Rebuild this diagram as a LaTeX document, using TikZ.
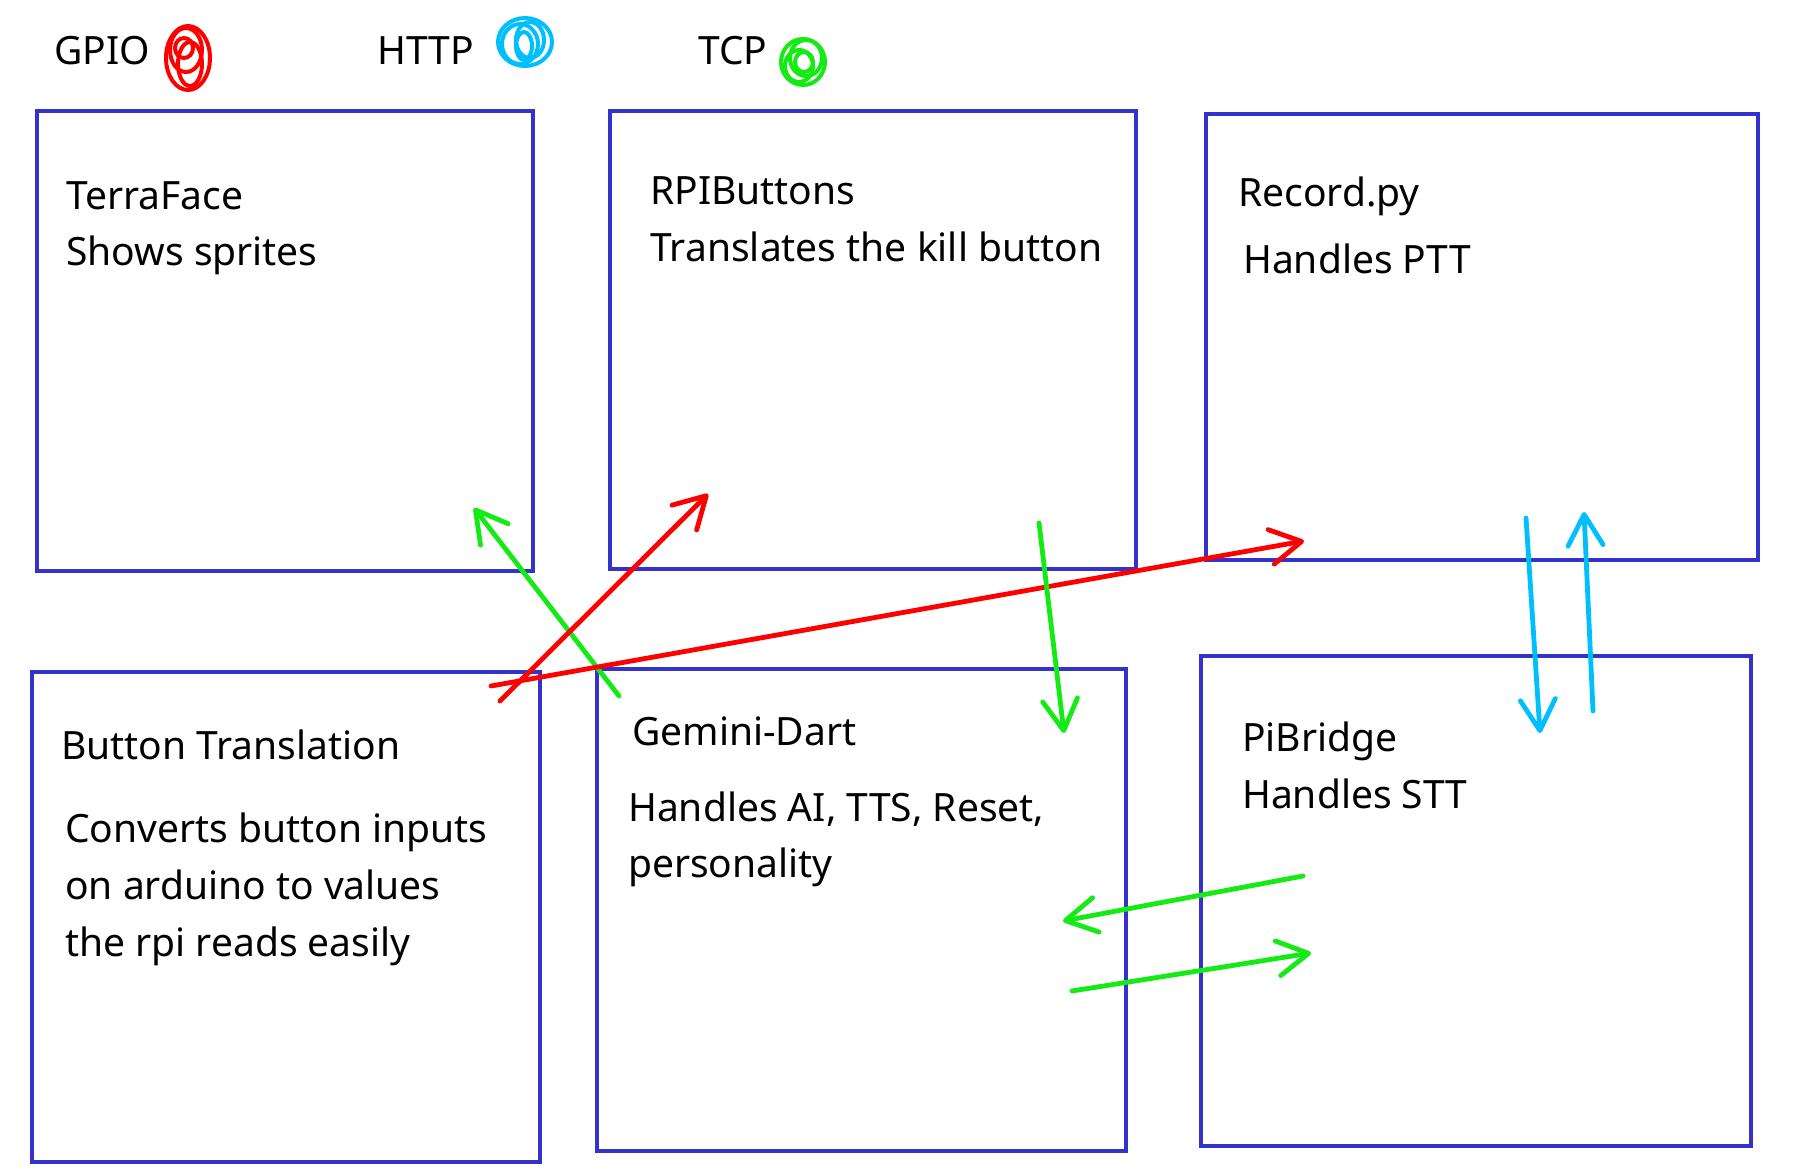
\documentclass[tikz,border=0pt]{standalone}
\usepackage{fontspec}
\setmainfont{Noto Sans}
\usetikzlibrary{arrows.meta}
\definecolor{boxblue}{RGB}{51,51,204}
\definecolor{gpiored}{RGB}{255,0,0}
\definecolor{tcpgreen}{RGB}{20,235,20}
\definecolor{httpblue}{RGB}{0,191,255}
\begin{document}
\begin{tikzpicture}[x=1pt,y=-1pt,
  box/.style={draw=boxblue,line width=4.5pt,inner sep=0pt,outer sep=0pt},
  txt/.style={anchor=base west,inner sep=0pt,font=\fontsize{39}{57}\selectfont},
  conn/.style={line width=4.8pt,line cap=round,line join=round,
    -{Straight Barb[length=31pt,width=35pt,round]}},
  gpio/.style={conn,draw=gpiored},
  tcp/.style={conn,draw=tcpgreen},
  http/.style={conn,draw=httpblue},
  scrib/.style={line width=4pt}]
\useasboundingbox (0,0) rectangle (1798,1173);
\fill[white] (0,0) rectangle (1798,1173);
% legend
\node[txt] (lgpio) at (54,64) {GPIO};
\node[txt] (lhttp) at (377,64) {HTTP};
\node[txt] (ltcp) at (698,64) {TCP};
\begin{scope}[draw=gpiored,scrib]
  \draw (188,58) ellipse [x radius=22,y radius=32];
  \draw (186,50) ellipse [x radius=16,y radius=22];
  \draw (190,64) ellipse [x radius=12,y radius=22];
  \draw (184,48) ellipse [x radius=9,y radius=10];
\end{scope}
\begin{scope}[draw=httpblue,scrib]
  \draw (525,42) ellipse [x radius=27,y radius=24];
  \draw (520,44) ellipse [x radius=18,y radius=20];
  \draw (530,40) ellipse [x radius=14,y radius=18];
  \draw (524,46) ellipse [x radius=8,y radius=14];
\end{scope}
\begin{scope}[draw=tcpgreen,scrib]
  \draw (803,62) ellipse [x radius=22,y radius=23];
  \draw (806,58) ellipse [x radius=16,y radius=18];
  \draw (799,66) ellipse [x radius=14,y radius=16];
  \draw (804,62) ellipse [x radius=9,y radius=10];
\end{scope}
% boxes
\node[box,minimum width=496pt,minimum height=460pt] (tf) at (285,341) {};
\node[box,minimum width=526pt,minimum height=458pt] (rb) at (873,340) {};
\node[box,minimum width=552pt,minimum height=446pt] (rc) at (1482,337) {};
\node[box,minimum width=508pt,minimum height=490pt] (bt) at (286,917) {};
\node[box,minimum width=529pt,minimum height=482pt] (gd) at (861.5,910) {};
\node[box,minimum width=550pt,minimum height=490pt] (pb) at (1476,901) {};
% texts
\node[txt] (tf1) at (66,209) {TerraFace};
\node[txt] (tf2) at (66,265) {Shows sprites};
\node[txt] (rb1) at (650,204) {RPIButtons};
\node[txt] (rb2) at (650,261) {Translates the kill button};
\node[txt] (rc1) at (1238,206) {Record.py};
\node[txt] (rc2) at (1243,273) {Handles PTT};
\node[txt] (bt1) at (61,759) {Button Translation};
\node[txt] (bt2) at (65,842) {Converts button inputs};
\node[txt] (bt3) at (65,899) {on arduino to values};
\node[txt] (bt4) at (65,956) {the rpi reads easily};
\node[txt] (gd1) at (632,745) {Gemini-Dart};
\node[txt] (gd2) at (628,821) {Handles AI, TTS, Reset,};
\node[txt] (gd3) at (628,877) {personality};
\node[txt] (pb1) at (1242,751) {PiBridge};
\node[txt] (pb2) at (1242,808) {Handles STT};
% connector end points
\coordinate (g1s) at (619,696);  \coordinate (g1e) at (474,508);
\coordinate (r1s) at (500,701);  \coordinate (r1e) at (708,494);
\coordinate (r2s) at (491,686);  \coordinate (r2e) at (1304,541);
\coordinate (g2s) at (1039,523); \coordinate (g2e) at (1064,733);
\coordinate (b1s) at (1526,518); \coordinate (b1e) at (1540,733);
\coordinate (b2s) at (1593,711); \coordinate (b2e) at (1584,512);
\coordinate (g3s) at (1303,876); \coordinate (g3e) at (1063,921);
\coordinate (g4s) at (1072,991); \coordinate (g4e) at (1311,953);
% connectors
\draw[tcp] (g1s) -- (g1e);
\draw[gpio] (r1s) -- (r1e);
\draw[gpio] (r2s) -- (r2e);
\draw[tcp] (g2s) -- (g2e);
\draw[http] (b1s) -- (b1e);
\draw[http] (b2s) -- (b2e);
\draw[tcp] (g3s) -- (g3e);
\draw[tcp] (g4s) -- (g4e);
\end{tikzpicture}
\end{document}
